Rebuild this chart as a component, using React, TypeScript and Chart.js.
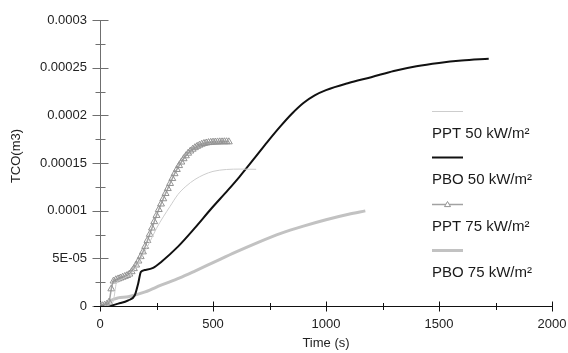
import React, { useEffect, useRef } from 'react';
import { Chart, registerables } from 'chart.js';

Chart.register(...registerables);

// Axis ticks
const xTicks = [0, 500, 1000, 1500, 2000];
const yStep = 0.00005;
const yTickLabels = ['0', '5E-05', '0.0001', '0.00015', '0.0002', '0.00025', '0.0003'];
const xTitle = 'Time (s)';
const yTitle = 'TCO(m3)';

// PPT 50 kW/m²
const ppt50Time = [0, 30, 50, 60, 66, 72, 80, 100, 130, 160, 190, 220, 250, 280, 310, 345, 380, 420, 460, 500, 560, 620, 691];
const ppt50Tco = [0, 0.0000005, 0.000002, 0.000006, 0.000015, 0.000024, 0.0000262, 0.0000285, 0.0000325, 0.000041,
  0.0000535, 0.000067, 0.0000815, 0.0000935, 0.0001045, 0.000117, 0.0001255, 0.0001327, 0.0001378, 0.0001412,
  0.0001432, 0.0001436, 0.0001434];

// PBO 50 kW/m²
const pbo50Time = [0, 37, 81, 125, 154, 169, 181, 198, 235, 272, 345, 419, 492, 566, 617, 680, 740, 800, 850, 900,
  950, 1000, 1100, 1200, 1300, 1400, 1500, 1600, 1720];
const pbo50Tco = [0, 0, 0.0000025, 0.000006, 0.0000113, 0.0000236, 0.0000359, 0.0000377, 0.00004, 0.0000465,
  0.0000623, 0.0000817, 0.000102, 0.0001215, 0.0001355, 0.000154, 0.000172, 0.000189, 0.000202, 0.000213, 0.000221,
  0.0002265, 0.000234, 0.00024, 0.0002465, 0.0002515, 0.000255, 0.0002575, 0.0002594];

// PPT 75 kW/m² (sampled every 10 s)
const ppt75Time = [0, 10, 20, 30, 40, 50, 60, 70, 80, 90, 100, 110, 120, 130, 140, 150, 160, 170, 180, 190, 200,
  210, 220, 230, 240, 250, 260, 270, 280, 290, 300, 310, 320, 330, 340, 350, 360, 370, 380, 390, 400, 410, 420, 430,
  440, 450, 460, 470, 480, 490, 500, 510, 520, 530, 540, 550, 560, 570];
const ppt75Tco = [0, 0.0000003, 0.0000008, 0.0000018, 0.000004, 0.000018, 0.0000262, 0.0000275, 0.0000284, 0.0000293,
  0.0000302, 0.0000311, 0.000032, 0.0000335, 0.000036, 0.0000392, 0.000043, 0.0000472, 0.0000518, 0.0000568,
  0.0000625, 0.0000688, 0.0000752, 0.0000818, 0.0000885, 0.000095, 0.0001012, 0.000107, 0.0001125, 0.000118,
  0.0001232, 0.0001285, 0.0001337, 0.0001388, 0.0001432, 0.0001473, 0.000151, 0.0001545, 0.0001576, 0.0001603,
  0.0001626, 0.0001645, 0.0001661, 0.0001675, 0.0001687, 0.0001697, 0.0001705, 0.000171, 0.0001714, 0.0001717,
  0.0001719, 0.000172, 0.0001721, 0.0001722, 0.0001722, 0.0001723, 0.0001723, 0.0001722];

// PBO 75 kW/m²
const pbo75Time = [0, 30, 50, 80, 125, 200, 270, 350, 420, 500, 600, 700, 800, 900, 1000, 1100, 1174];
const pbo75Tco = [0, 0.000002, 0.000006, 0.0000085, 0.0000098, 0.0000148, 0.0000218, 0.0000293, 0.0000367,
  0.0000455, 0.0000565, 0.0000668, 0.0000762, 0.0000838, 0.0000905, 0.0000962, 0.0000998];

const toPoints = (t: number[], v: number[]) => t.map((x, i) => ({ x, y: v[i] }));

const FONT = '"Liberation Sans", Arial, sans-serif';

const axesPlugin = {
  id: 'crossAxes',
  beforeDatasetsDraw(chart: any) {
    const { ctx, scales } = chart;
    const x = scales.x;
    const y = scales.y;
    const seg = (x1: number, y1: number, x2: number, y2: number) => {
      ctx.beginPath();
      ctx.moveTo(x1, y1);
      ctx.lineTo(x2, y2);
      ctx.stroke();
    };
    ctx.save();
    ctx.lineWidth = 1;

    // vertical axis, grey, ticks crossing the line
    const ax = Math.round(x.getPixelForValue(0)) + 0.5;
    const yTop = y.getPixelForValue(yStep * (yTickLabels.length - 1));
    const yBot = y.getPixelForValue(0);
    ctx.strokeStyle = '#6f6f6f';
    seg(ax, yTop, ax, yBot);
    for (let i = 0; i < yTickLabels.length; i++) {
      const py = Math.round(y.getPixelForValue(i * yStep)) + 0.5;
      seg(ax - 8, py, ax + 8, py);
      if (i < yTickLabels.length - 1) {
        const pm = Math.round(y.getPixelForValue((i + 0.5) * yStep)) + 0.5;
        seg(ax - 5, pm, ax + 5, pm);
      }
    }

    // horizontal axis, black
    const ay = Math.round(yBot) + 0.5;
    ctx.strokeStyle = '#111';
    seg(x.getPixelForValue(0) - 6, ay, x.getPixelForValue(xTicks[xTicks.length - 1]), ay);
    for (let i = 0; i < xTicks.length; i++) {
      const px = Math.round(x.getPixelForValue(xTicks[i])) + 0.5;
      seg(px, ay - 5, px, ay + 5);
      if (i < xTicks.length - 1) {
        const pm = Math.round(x.getPixelForValue((xTicks[i] + xTicks[i + 1]) / 2)) + 0.5;
        seg(pm, ay - 3.5, pm, ay + 3.5);
      }
    }

    // axis titles
    ctx.fillStyle = '#222';
    ctx.font = `13px ${FONT}`;
    ctx.textAlign = 'center';
    ctx.textBaseline = 'middle';
    ctx.fillText(xTitle, (chart.chartArea.left + chart.chartArea.right) / 2, 343);
    ctx.translate(16, 156);
    ctx.rotate(-Math.PI / 2);
    ctx.fillText(yTitle, 0, 0);
    ctx.restore();
  },
  afterDraw(chart: any) {
    const { ctx } = chart;
    const lx = chart.width - 136;
    const gap = 46.3;
    ctx.save();
    chart.data.datasets.forEach((ds: any, i: number) => {
      const ly = Math.round(111 + i * gap) + 0.5;
      ctx.strokeStyle = ds.borderColor;
      ctx.lineWidth = ds.borderWidth;
      ctx.beginPath();
      ctx.moveTo(lx, ly);
      ctx.lineTo(lx + 31, ly);
      ctx.stroke();
      if (ds.pointStyle === 'triangle') {
        const cx = lx + 15.5;
        const r = 3;
        ctx.strokeStyle = ds.pointBorderColor;
        ctx.lineWidth = 1;
        ctx.fillStyle = '#fff';
        ctx.beginPath();
        ctx.moveTo(cx, ly - r);
        ctx.lineTo(cx + r, ly + r * 0.7);
        ctx.lineTo(cx - r, ly + r * 0.7);
        ctx.closePath();
        ctx.fill();
        ctx.stroke();
      }
      ctx.fillStyle = '#1a1a1a';
      ctx.font = `15px ${FONT}`;
      ctx.textAlign = 'left';
      ctx.textBaseline = 'middle';
      ctx.fillText(ds.label, lx, 134 + i * gap);
    });
    ctx.restore();
  },
};

export default function App() {
  const canvasRef = useRef<HTMLCanvasElement | null>(null);

  useEffect(() => {
    document.body.style.margin = '0';
    const canvas = canvasRef.current;
    if (!canvas) return;
    const chart = new Chart(canvas, {
      type: 'line',
      data: {
        datasets: [
          {
            label: 'PPT 50 kW/m²',
            data: toPoints(ppt50Time, ppt50Tco),
            borderColor: '#cdcdcd',
            borderWidth: 1,
            pointRadius: 0,
            cubicInterpolationMode: 'monotone',
          },
          {
            label: 'PBO 50 kW/m²',
            data: toPoints(pbo50Time, pbo50Tco),
            borderColor: '#111111',
            borderWidth: 2,
            pointRadius: 0,
            cubicInterpolationMode: 'monotone',
          },
          {
            label: 'PPT 75 kW/m²',
            data: toPoints(ppt75Time, ppt75Tco),
            borderColor: '#a2a2a2',
            borderWidth: 1.5,
            pointStyle: 'triangle',
            pointRadius: 4,
            pointBorderWidth: 1,
            pointBorderColor: '#939393',
            pointBackgroundColor: 'rgba(255,255,255,0)',
            cubicInterpolationMode: 'monotone',
          },
          {
            label: 'PBO 75 kW/m²',
            data: toPoints(pbo75Time, pbo75Tco),
            borderColor: '#c2c2c2',
            borderWidth: 3,
            pointRadius: 0,
            cubicInterpolationMode: 'monotone',
          },
        ] as any,
      },
      options: {
        responsive: false,
        animation: false,
        layout: { padding: { left: 0, top: 20, right: 16, bottom: 0 } },
        plugins: { legend: { display: false }, tooltip: { enabled: false } },
        scales: {
          x: {
            type: 'linear',
            min: xTicks[0],
            max: xTicks[xTicks.length - 1],
            grid: { display: false, drawTicks: false, tickLength: 0 },
            border: { display: false },
            afterBuildTicks: (s: any) => {
              s.ticks = xTicks.map((value) => ({ value }));
            },
            afterFit: (s: any) => {
              s.height = 47;
              s.paddingLeft = 0;
              s.paddingRight = 0;
            },
            ticks: {
              padding: 11,
              color: '#222',
              font: { family: FONT, size: 13 },
              maxRotation: 0,
              callback: (v: any) => String(v),
            },
          },
          y: {
            type: 'linear',
            min: 0,
            max: yStep * (yTickLabels.length - 1),
            grid: { display: false, drawTicks: false, tickLength: 0 },
            border: { display: false },
            afterBuildTicks: (s: any) => {
              s.ticks = yTickLabels.map((_, i) => ({ value: i * yStep }));
            },
            afterFit: (s: any) => {
              s.width = 100;
              s.paddingTop = 0;
              s.paddingBottom = 0;
            },
            ticks: {
              padding: 13,
              color: '#222',
              font: { family: FONT, size: 13 },
              callback: (_v: any, i: number) => yTickLabels[i],
            },
          },
        },
      },
      plugins: [axesPlugin],
    });
    return () => chart.destroy();
  }, []);

  return (
    <div style={{ position: 'fixed', left: 0, top: 0, width: 568, height: 353, background: '#fff' }}>
      <canvas ref={canvasRef} width={568} height={353} style={{ display: 'block' }} />
    </div>
  );
}
